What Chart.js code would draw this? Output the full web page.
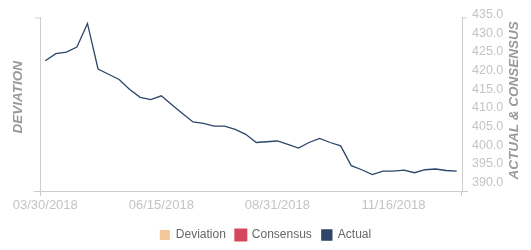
<!DOCTYPE html>
<html>
<head>
<meta charset="utf-8">
<script src="https://cdn.jsdelivr.net/npm/chart.js@4"></script>
<style>
  html, body { margin: 0; padding: 0; background: #fff; }
  #wrap { width: 531px; height: 250px; }
</style>
</head>
<body>
<div id="wrap"><canvas id="chart" width="531" height="250"></canvas></div>
<script>
// weekly release dates
const dates = ['03/30/2018','04/06/2018','04/13/2018','04/20/2018','04/27/2018','05/04/2018','05/11/2018','05/18/2018','05/25/2018','06/01/2018',
  '06/08/2018','06/15/2018','06/22/2018','06/29/2018','07/06/2018','07/13/2018','07/20/2018','07/27/2018','08/03/2018','08/10/2018',
  '08/17/2018','08/24/2018','08/31/2018','09/07/2018','09/14/2018','09/21/2018','09/28/2018','10/05/2018','10/12/2018','10/19/2018',
  '10/26/2018','11/02/2018','11/09/2018','11/16/2018','11/23/2018','11/30/2018','12/07/2018','12/14/2018','12/21/2018','12/28/2018']
const actual = [423.4,425.3,425.7,427.1,433.4,421.2,419.8,418.4,415.7,413.6,
  413.0,414.0,411.6,409.3,407.0,406.6,405.9,405.9,405.0,403.7,
  401.5,401.7,401.9,401.0,400.0,401.5,402.6,401.5,400.6,395.3,
  394.2,392.9,393.8,393.8,394.1,393.4,394.2,394.4,394.0,393.8]
const consensus = []
const deviation = []
const rightTicks = [390,395,400,405,410,415,420,425,430,435]
const shownDates = ['03/30/2018','06/15/2018','08/31/2018','11/16/2018']

const axisColor = '#cccccc'
const font = 'Arial, "Liberation Sans", sans-serif'

// axis titles (right one reads bottom-to-top) + little axis overhangs
const axisExtras = {
  id: 'axisExtras',
  afterDraw(chart) {
    const {ctx, chartArea: a} = chart
    ctx.save()
    ctx.strokeStyle = axisColor
    ctx.lineWidth = 1
    ctx.beginPath()
    ctx.moveTo(a.left - 6, a.bottom + 0.5); ctx.lineTo(a.right + 6, a.bottom + 0.5)
    ctx.moveTo(a.left + 0.5, a.bottom); ctx.lineTo(a.left + 0.5, a.bottom + 5)
    ctx.moveTo(a.right - 0.5, a.bottom); ctx.lineTo(a.right - 0.5, a.bottom + 5)
    ctx.moveTo(a.left + 0.5, a.top + 0.5); ctx.lineTo(a.left - 5, a.top + 0.5)
    ctx.moveTo(a.right - 0.5, a.top + 0.5); ctx.lineTo(a.right + 5, a.top + 0.5)
    ctx.stroke()

    ctx.font = 'italic bold 13.5px ' + font
    ctx.textAlign = 'center'
    ctx.textBaseline = 'middle'
    ctx.fillStyle = '#999999'
    const mid = (a.top + a.bottom) / 2
    ctx.translate(18, mid - 7)
    ctx.rotate(-Math.PI / 2)
    ctx.fillText('DEVIATION', 0, 0)
    ctx.restore()

    ctx.save()
    ctx.font = 'italic bold 13.5px ' + font
    ctx.textAlign = 'center'
    ctx.textBaseline = 'middle'
    ctx.fillStyle = '#999999'
    ctx.translate(514, mid - 4)
    ctx.rotate(-Math.PI / 2)
    ctx.fillText('ACTUAL & CONSENSUS', 0, 0)
    ctx.restore()
  }
}

new Chart(document.getElementById('chart'), {
  type: 'line',
  data: {
    labels: dates,
    datasets: [
      {label: 'Deviation', type: 'bar', data: deviation, yAxisID: 'y',
       backgroundColor: '#f2c79a', borderColor: '#f2c79a'},
      {label: 'Consensus', data: consensus, yAxisID: 'y2',
       backgroundColor: '#d3485c', borderColor: '#d3485c', pointRadius: 0},
      {label: 'Actual', data: actual, yAxisID: 'y2',
       backgroundColor: '#2d4569', borderColor: '#2d4569', borderWidth: 1.3,
       pointRadius: 0, tension: 0, fill: false}
    ]
  },
  options: {
    responsive: false,
    animation: false,
    layout: {padding: {top: 15, left: 0, right: 0, bottom: -1}},
    plugins: {
      legend: {
        position: 'bottom',
        labels: {boxWidth: 10, boxHeight: 10, padding: 10, color: '#666666',
                 font: {size: 12, family: font}}
      },
      tooltip: {enabled: false}
    },
    scales: {
      x: {
        offset: true,
        grid: {display: false, drawTicks: false},
        border: {color: axisColor},
        ticks: {
          autoSkip: false, maxRotation: 0, padding: 7, color: '#c4c4c4',
          font: {size: 13, family: font},
          callback(v, i) { const d = dates[i]; return shownDates.includes(d) ? d : '' }
        },
        afterFit(s) { s.height = 28 }
      },
      y: {
        position: 'left',
        grid: {display: false, drawTicks: false},
        border: {color: axisColor},
        ticks: {display: false},
        afterFit(s) { s.width = 40 }
      },
      y2: {
        position: 'right',
        min: 388.5, max: 435,
        grid: {display: false, drawTicks: false},
        border: {color: axisColor},
        ticks: {color: '#c4c4c4', padding: 10, labelOffset: -3,
                font: {size: 12.5, family: font},
                callback(v) { return v.toFixed(1) }},
        afterBuildTicks(s) { s.ticks = rightTicks.map(v => ({value: v})) },
        afterFit(s) { s.width = 69 }
      }
    }
  },
  plugins: [axisExtras]
})
</script>
</body>
</html>
